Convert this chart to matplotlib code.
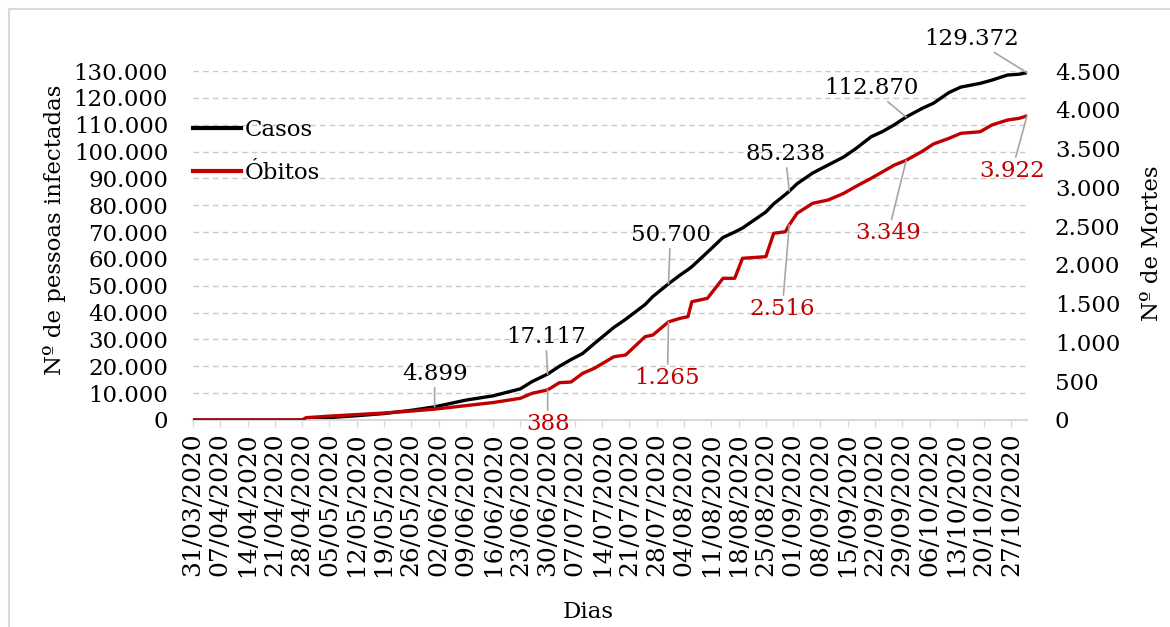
import matplotlib
matplotlib.use('Agg')
import matplotlib.pyplot as plt
import matplotlib.ticker as mticker
import matplotlib.patches as mpatches
from matplotlib.lines import Line2D
import pandas as pd

# Dados (acumulados)
datas = ['31/03/2020', '28/04/2020', '29/04/2020', '05/05/2020', '12/05/2020',
         '19/05/2020', '26/05/2020', '01/06/2020', '09/06/2020', '16/06/2020',
         '23/06/2020', '26/06/2020', '30/06/2020', '03/07/2020', '06/07/2020',
         '09/07/2020', '12/07/2020', '17/07/2020', '20/07/2020', '25/07/2020',
         '27/07/2020', '31/07/2020', '03/08/2020', '05/08/2020', '06/08/2020',
         '10/08/2020', '14/08/2020', '17/08/2020', '19/08/2020', '25/08/2020',
         '27/08/2020', '30/08/2020', '31/08/2020', '02/09/2020', '06/09/2020',
         '10/09/2020', '14/09/2020', '17/09/2020', '21/09/2020', '24/09/2020',
         '27/09/2020', '30/09/2020', '04/10/2020', '07/10/2020', '11/10/2020',
         '14/10/2020', '19/10/2020', '22/10/2020', '26/10/2020', '29/10/2020',
         '31/10/2020']
casos = [0, 0, 400, 900, 1600,
         2400, 3600, 4899, 7400, 9000,
         11600, 14300, 17117, 20000, 22500,
         24800, 28500, 34500, 37500, 43000,
         46000, 50700, 54000, 56000, 57100,
         62500, 68000, 70000, 71500, 77500,
         80500, 84000, 85238, 88000, 92000,
         95000, 98000, 101000, 105500, 107500,
         110000, 112870, 116000, 118000, 122000,
         124000, 125400, 126600, 128500, 128800,
         129372]
obitos = [0, 0, 30, 50, 70,
          90, 115, 140, 185, 225,
          280, 344, 388, 481, 490,
          602, 667, 816, 838, 1074,
          1096, 1265, 1311, 1332, 1525,
          1569, 1827, 1827, 2085, 2106,
          2407, 2428, 2516, 2665, 2794,
          2837, 2923, 3009, 3116, 3202,
          3288, 3349, 3460, 3559, 3632,
          3696, 3717, 3804, 3868, 3890,
          3922]

# rotulos: (data, deslocamento do texto em pixels)
rot_casos = [('01/06/2020', (0, 33)), ('30/06/2020', (-2, 37)),
             ('31/07/2020', (2, 49)), ('31/08/2020', (-4, 37)),
             ('30/09/2020', (-35, 29)), ('31/10/2020', (-55, 34))]
rot_obitos = [('30/06/2020', (0, -34)), ('31/07/2020', (-1, -56)),
              ('31/08/2020', (-7, -84)), ('30/09/2020', (-18, -73)),
              ('31/10/2020', (-15, -55))]

VERMELHO = '#c00000'
CINZA = '#d9d9d9'
FONTE = 'DejaVu Serif'
TAM = 16.5

plt.rcParams['font.family'] = FONTE


def fmt(v):
    return '{:,.0f}'.format(v).replace(',', '.')


dt = pd.to_datetime(datas, format='%d/%m/%Y')

fig = plt.figure(figsize=(11.7, 6.27), dpi=100)
ax = fig.add_axes([193 / 1170, 1 - 420 / 627, 834 / 1170, 349 / 627])
ax2 = ax.twinx()

ax.plot(dt, casos, color='black', lw=2.4, solid_joinstyle='round')
ax2.plot(dt, obitos, color=VERMELHO, lw=2.4, solid_joinstyle='round')

ax.set_xlim(dt[0], dt[-1])
ax.set_ylim(0, 130000)
ax2.set_ylim(0, 4500)
ax.yaxis.set_major_locator(mticker.MultipleLocator(10000))
ax2.yaxis.set_major_locator(mticker.MultipleLocator(500))
ax.yaxis.set_major_formatter(mticker.FuncFormatter(lambda v, p: fmt(v)))
ax2.yaxis.set_major_formatter(mticker.FuncFormatter(lambda v, p: fmt(v)))

ticks = pd.date_range(dt[0], dt[-1], freq='7D')
ax.set_xticks(ticks)
ax.set_xticklabels([t.strftime('%d/%m/%Y') for t in ticks], rotation=90)

ax.grid(axis='y', color='#c8c8c8', linestyle=(0, (4, 3)), lw=1)
ax.set_axisbelow(True)

for a in (ax, ax2):
    for s in a.spines.values():
        s.set_visible(False)
ax.spines['bottom'].set_visible(True)
ax.spines['bottom'].set_color(CINZA)
ax.spines['bottom'].set_linewidth(1.5)

ax.tick_params(axis='x', length=5, width=1, color=CINZA, pad=4, labelsize=18)
ax.tick_params(axis='y', length=0, pad=18, labelsize=TAM)
ax2.tick_params(axis='y', length=0, pad=20, labelsize=TAM)

# rotulos de dados
for d, off in rot_casos:
    i = datas.index(d)
    ax.annotate(fmt(casos[i]), (dt[i], casos[i]), xytext=off,
                textcoords='offset pixels', ha='center', va='center',
                fontsize=TAM, color='black',
                arrowprops=dict(arrowstyle='-', color='#a6a6a6', lw=1.2,
                                shrinkA=0, shrinkB=0))
for d, off in rot_obitos:
    i = datas.index(d)
    ax2.annotate(fmt(obitos[i]), (dt[i], obitos[i]), xytext=off,
                 textcoords='offset pixels', ha='center', va='center',
                 fontsize=TAM, color=VERMELHO,
                 arrowprops=dict(arrowstyle='-', color='#a6a6a6', lw=1.2,
                                 shrinkA=0, shrinkB=0))

# legenda
handles = [Line2D([], [], color='black', lw=3), Line2D([], [], color=VERMELHO, lw=3)]
ax.legend(handles, ['Casos', 'Óbitos'], loc='upper left',
          bbox_to_anchor=(0.0, 0.863), frameon=False, fontsize=TAM,
          handlelength=2.1, handletextpad=0.15, labelspacing=0.92,
          borderpad=0, borderaxespad=0)

fig.text(55 / 1170, 1 - 230 / 627, 'Nº de pessoas infectadas', rotation=90,
         ha='center', va='center', fontsize=TAM)
fig.text(1152 / 1170, 1 - 243 / 627, 'Nº de Mortes', rotation=90,
         ha='center', va='center', fontsize=TAM)
fig.text(588 / 1170, 1 - 612 / 627, 'Dias', ha='center', va='center', fontsize=TAM)

# borda do grafico
fig.patches.append(mpatches.Rectangle((9 / 1170, -0.1), 1.2, 1.1 - 9 / 627,
                                      transform=fig.transFigure, fill=False,
                                      ec=CINZA, lw=1.5))

fig.savefig('out.png', dpi=100)
